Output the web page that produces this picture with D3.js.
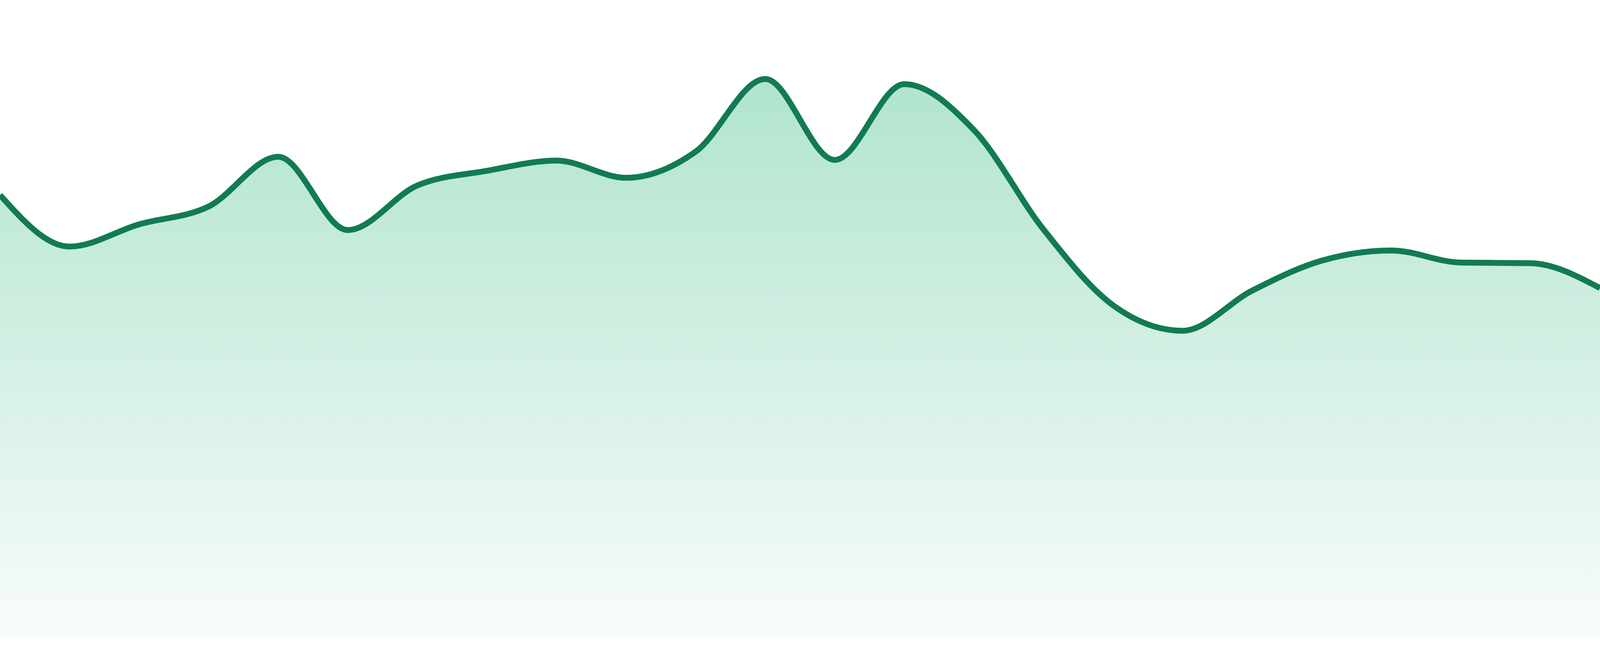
<!DOCTYPE HTML>
<html>
  <head>
    <style>
      html, body { margin: 0; padding: 0; background: #ffffff; overflow: hidden; }
      svg { display: block; }
    </style>
    <script type="text/javascript" src="https://cdnjs.cloudflare.com/ajax/libs/d3/7.8.5/d3.min.js"></script>
  </head>
  <body>
    <div id="graph-holder"></div>
    <script type="text/javascript">
      const width = window.innerWidth || 4800;
      const height = window.innerHeight || 1680;
      const bottom = height * 48 / 1680;   // gap under the area

      // one value per step
      const steps = d3.range(24);
      const values = [69.4, 61.3, 64.8, 67.6, 75.4, 63.9, 70.9, 73.2,
                      74.8, 72.1, 76.2, 87.6, 74.9, 86.8, 79.6, 64.0,
                      52.1, 48.1, 54.4, 59.1, 60.7, 58.8, 58.7, 54.8];

      const lineColor = "#127b52";
      const fillTop = "#b0e4ce";
      const fillBottom = "#f8fcfa";

      var svg = d3.select("#graph-holder")
        .append("svg")
        .attr("width", width)
        .attr("height", height)
        .attr("viewBox", [0, 0, width, height]);

      var xScale = d3.scaleLinear()
        .domain([0, steps.length - 1])
        .range([0, width]);

      var yScale = d3.scaleLinear()
        .domain([0, 100])
        .range([height - bottom, 0]);

      var data = steps.map(function(d, i){ return {x: d, y: values[i]}; });

      // gradient fill, from the highest point down to the base line
      var grad = svg.append("defs")
        .append("linearGradient")
        .attr("id", "areaFill")
        .attr("gradientUnits", "userSpaceOnUse")
        .attr("x1", 0).attr("x2", 0)
        .attr("y1", yScale(d3.max(values)))
        .attr("y2", yScale(0));
      grad.append("stop").attr("offset", "0%").attr("stop-color", fillTop);
      grad.append("stop").attr("offset", "100%").attr("stop-color", fillBottom);

      var area = d3.area()
        .curve(d3.curveMonotoneX)
        .x(d => xScale(d.x))
        .y0(yScale(0))
        .y1(d => yScale(d.y));

      var line = d3.line()
        .curve(d3.curveMonotoneX)
        .x(d => xScale(d.x))
        .y(d => yScale(d.y));

      svg.append("path")
        .datum(data)
        .attr("fill", "url(#areaFill)")
        .attr("d", area);

      svg.append("path")
        .datum(data)
        .attr("fill", "none")
        .attr("stroke", lineColor)
        .attr("stroke-width", height * 15 / 1680)
        .attr("stroke-linejoin", "round")
        .attr("d", line);
    </script>
  </body>
</html>
